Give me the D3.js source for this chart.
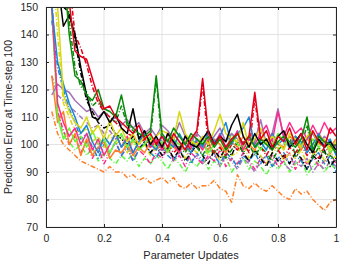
<!DOCTYPE html>
<html>
<head>
<meta charset="utf-8">
<script src="https://cdn.jsdelivr.net/npm/d3@7"></script>
<style>
body { margin: 0; background: #fff; }
text { font-family: "Liberation Sans", Arial, sans-serif; fill: #262626; }
</style>
</head>
<body>
<div id="chart"></div>
<script>
// x positions of the samples (parameter updates)
var updates = [0.02,0.04,0.06,0.08,0.10,0.12,0.14,0.16,0.18,0.20,0.22,0.24,0.26,0.28,0.30,0.32,0.34,0.36,0.38,0.40,
               0.42,0.44,0.46,0.48,0.50,0.52,0.54,0.56,0.58,0.60,0.62,0.64,0.66,0.68,0.70,0.72,0.74,0.76,0.78,0.80,
               0.82,0.84,0.86,0.88,0.90,0.92,0.94,0.96,0.98,1.00];

var xTicks = [0, 0.2, 0.4, 0.6, 0.8, 1];
var yTicks = [70, 80, 90, 100, 110, 120, 130, 140, 150];

var redSolid = [200,190,175,152,134,132,131,124,117,113,114,110,108,106,104,107,102,104,100,103,99,104,101,98,102,105,124,104,100,103,99,102,104,100,103,119,102,105,99,103,101,106,100,104,98,105,101,99,106,103];
var redDash = [210,195,180,160,140,135,129,121,115,112,110,108,106,104,103,100,102,99,101,98,100,97,99,101,98,103,122,100,97,99,96,100,98,101,97,117,99,96,100,98,95,99,97,100,96,98,95,99,97,100];
var blackSolid = [180,160,143,147,140,128,118,110,109,112,108,111,106,104,113,102,105,100,103,99,104,101,98,103,100,99,102,105,100,103,101,107,111,103,99,104,100,102,98,103,105,99,101,104,100,97,102,99,101,98];
var blackDash = [190,170,150,148,138,126,116,112,108,106,107,104,102,100,103,98,101,97,100,96,99,95,98,94,97,100,96,93,98,95,99,96,101,97,94,98,95,92,97,94,96,93,97,95,91,96,94,98,92,95];
var greenSolid = [200,185,165,140,125,123,118,116,120,113,112,110,118,108,106,104,103,105,125,104,101,106,103,100,104,102,100,103,99,102,98,101,104,100,103,99,102,100,98,101,103,101,99,102,110,98,103,101,100,97];
var greenDash = [210,190,170,145,128,121,119,114,116,112,110,108,114,107,105,103,101,102,124,100,98,102,99,97,101,99,96,100,97,99,95,98,101,97,100,96,99,97,94,98,100,103,96,99,107,95,99,97,96,94];
var yellowSolid = [180,150,118,112,108,106,110,104,107,102,109,103,106,101,104,100,103,101,103,105,104,102,112,104,101,100,103,100,105,111,104,102,101,108,99,102,106,100,103,101,98,104,102,99,103,105,100,102,98,101];
var yellowDash = [170,140,115,110,105,104,106,101,103,99,104,100,102,97,101,98,100,96,99,101,97,100,98,95,99,97,100,96,98,94,99,96,97,100,95,98,96,93,97,99,94,97,95,98,93,96,99,94,97,95];
var blueSolid = [150,130,122,115,110,104,107,101,97,103,100,104,99,102,97,101,104,100,98,103,101,99,104,100,97,102,99,105,101,103,108,100,104,106,110,99,101,98,104,100,102,99,103,101,97,100,104,99,102,96];
var blueDash = [145,128,120,113,108,102,104,99,95,100,97,101,96,99,94,98,101,97,95,99,96,94,98,95,93,97,94,99,96,93,97,95,92,96,94,97,93,96,92,95,97,93,96,94,91,95,97,93,96,90];
var purpleSolid = [118,122,120,119,116,114,112,113,110,112,108,110,107,109,106,108,104,106,103,107,105,102,108,103,101,104,102,100,103,106,101,104,102,100,103,101,109,100,104,113,102,100,103,99,102,104,100,103,101,99];
var purpleDash = [125,118,116,114,112,110,108,106,107,104,105,102,103,100,101,99,100,97,99,96,98,95,97,99,94,96,93,95,97,92,96,94,91,95,93,90,94,96,92,95,93,91,94,92,95,90,93,91,94,92];
var pinkSolid = [150,115,108,103,106,100,104,98,102,96,100,104,99,103,97,101,105,99,102,98,104,100,97,103,99,101,98,102,100,104,99,101,105,98,102,100,104,107,101,112,103,108,104,106,102,107,103,108,104,106];
var pinkDash = [155,112,105,100,103,97,101,95,99,93,97,101,96,99,94,98,96,93,97,95,99,94,96,92,97,95,93,96,94,98,92,95,93,97,94,91,95,93,96,92,94,97,91,95,93,96,92,94,97,93];
var limeSolid = [150,110,102,106,101,103,99,105,100,102,97,101,104,99,102,98,100,103,99,101,97,102,100,98,103,99,101,97,100,102,98,104,100,99,103,101,98,102,100,104,101,99,103,100,98,102,99,101,97,100];
var limeDash = [150,112,103,101,98,100,96,99,94,97,95,93,96,94,97,92,95,93,96,94,91,95,93,90,94,92,95,91,94,92,96,90,93,95,91,94,92,89,93,91,94,90,93,95,89,92,94,90,93,91];
var orangeSolid = [125,108,112,100,104,96,102,96,99,101,95,98,97,100,96,99,97,101,98,100,102,99,97,101,103,99,100,98,102,100,97,101,99,103,100,98,102,101,104,100,99,103,101,98,102,100,104,101,99,102];
var orangeDash = [112,104,100,98,96,94,93,92,91,90,92,90,90,88,89,87,88,86,87,88,86,88,85,84,86,84,85,85,87,84,83,79,89,85,84,86,84,83,85,83,81,80,84,82,83,80,78,76,79,80];

var seriesNames = ['orangeDash','limeDash','purpleDash','pinkDash','blueDash','yellowDash','blackDash','greenDash','redDash',
                   'orangeSolid','limeSolid','purpleSolid','pinkSolid','blueSolid','yellowSolid','blackSolid','greenSolid','redSolid'];
var seriesValues = [orangeDash, limeDash, purpleDash, pinkDash, blueDash, yellowDash, blackDash, greenDash, redDash,
                    orangeSolid, limeSolid, purpleSolid, pinkSolid, blueSolid, yellowSolid, blackSolid, greenSolid, redSolid];
var seriesColors = ['#ff7f27','#5cf542','#a474b8','#ff2a8e','#1a86d8','#d8d810','#000000','#0a8a0a','#e0001a',
                    '#ff7f27','#66f53a','#a474b8','#ff2a8e','#1a86d8','#d8d810','#000000','#0a8a0a','#e0001a'];
var seriesDashed = [true,true,true,true,true,true,true,true,true,
                    false,false,false,false,false,false,false,false,false];

var width = 345, height = 263;
var margin = {top: 7, right: 9, bottom: 36, left: 46};
var plotW = width - margin.left - margin.right;
var plotH = height - margin.top - margin.bottom;

var svg = d3.select('#chart').append('svg').attr('width', width).attr('height', height);
var g = svg.append('g').attr('transform', 'translate(' + margin.left + ',' + margin.top + ')');

var x = d3.scaleLinear().domain([0, 1]).range([0, plotW]);
var y = d3.scaleLinear().domain([70, 150]).range([plotH, 0]);

// grid
g.append('g').selectAll('line').data(xTicks).enter().append('line')
    .attr('x1', function(d) { return x(d); }).attr('x2', function(d) { return x(d); })
    .attr('y1', 0).attr('y2', plotH)
    .attr('stroke', '#e3e3e3').attr('stroke-width', 1);
g.append('g').selectAll('line').data(yTicks).enter().append('line')
    .attr('y1', function(d) { return y(d); }).attr('y2', function(d) { return y(d); })
    .attr('x1', 0).attr('x2', plotW)
    .attr('stroke', '#e3e3e3').attr('stroke-width', 1);

svg.append('defs').append('clipPath').attr('id', 'plotclip')
    .append('rect').attr('width', plotW).attr('height', plotH);

var line = d3.line()
    .x(function(d, i) { return x(updates[i]); })
    .y(function(d) { return y(d); });

var lines = g.append('g').attr('clip-path', 'url(#plotclip)');
seriesValues.forEach(function(vals, k) {
    lines.append('path')
        .attr('class', seriesNames[k])
        .attr('d', line(vals))
        .attr('fill', 'none')
        .attr('stroke', seriesColors[k])
        .attr('stroke-width', 1.5)
        .attr('stroke-linejoin', 'round')
        .attr('stroke-dasharray', seriesDashed[k] ? '5,2,1,2' : null);
});

// axes (box with inward ticks)
var xAxis = g.append('g').attr('transform', 'translate(0,' + plotH + ')')
    .call(d3.axisBottom(x).tickValues(xTicks).tickSizeInner(-3).tickSizeOuter(0).tickPadding(8).tickFormat(d3.format('')));
var xTop = g.append('g')
    .call(d3.axisTop(x).tickValues(xTicks).tickSizeInner(-3).tickSizeOuter(0).tickFormat(''));
var yAxis = g.append('g')
    .call(d3.axisLeft(y).tickValues(yTicks).tickSizeInner(-3).tickSizeOuter(0).tickPadding(8));
var yRight = g.append('g').attr('transform', 'translate(' + plotW + ',0)')
    .call(d3.axisRight(y).tickValues(yTicks).tickSizeInner(-3).tickSizeOuter(0).tickFormat(''));

[xAxis, xTop, yAxis, yRight].forEach(function(a) {
    a.selectAll('.domain').attr('stroke', '#262626').attr('stroke-width', 1);
    a.selectAll('.tick line').attr('stroke', '#262626');
    a.selectAll('text').attr('font-size', 10.5).attr('fill', '#262626')
        .attr('font-family', '"Liberation Sans", Arial, sans-serif');
});

svg.append('text')
    .attr('x', margin.left + plotW / 2).attr('y', 259)
    .attr('text-anchor', 'middle').attr('font-size', 11)
    .text('Parameter Updates');

svg.append('text')
    .attr('transform', 'translate(12,' + (margin.top + plotH / 2) + ') rotate(-90)')
    .attr('text-anchor', 'middle').attr('font-size', 10.5)
    .text('Prediction Error at Time-step 100');
</script>
</body>
</html>
